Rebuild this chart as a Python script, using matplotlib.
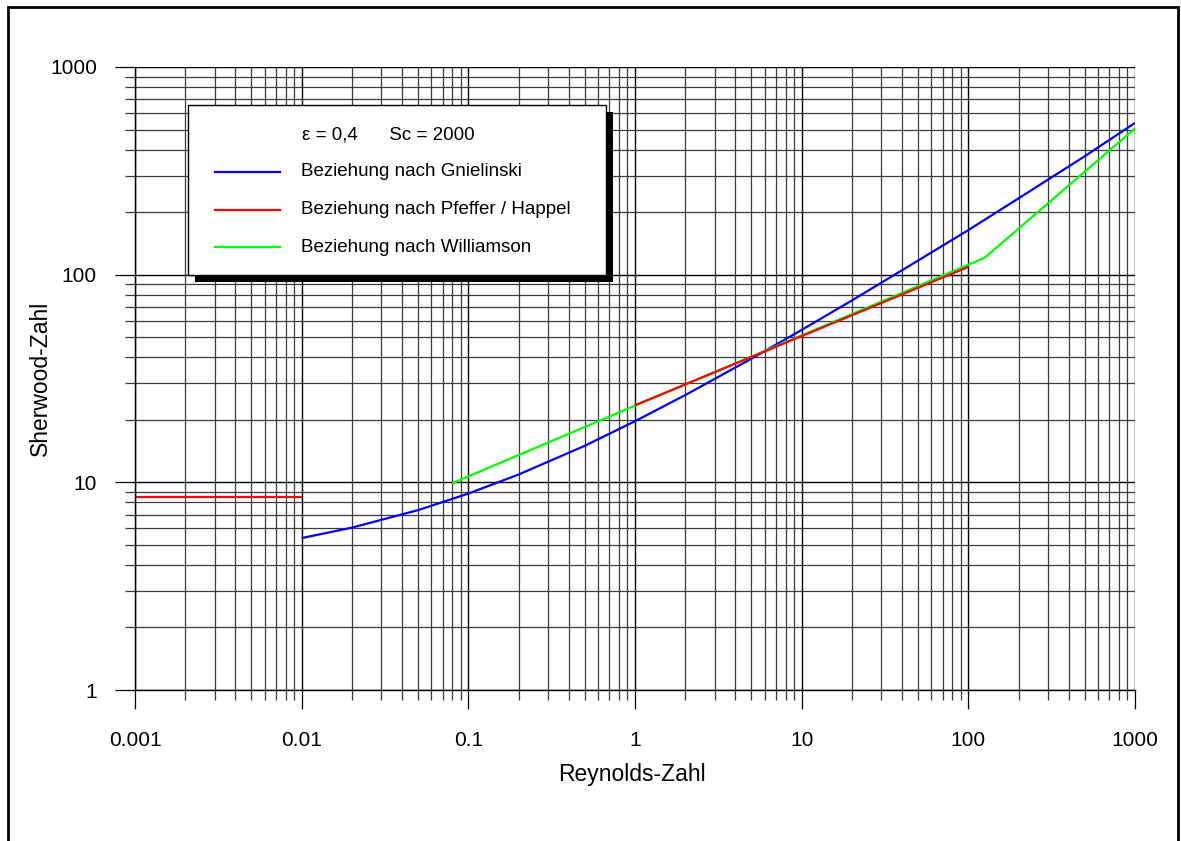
import matplotlib
matplotlib.use("Agg")
import matplotlib.pyplot as plt
from matplotlib.patches import Rectangle
from matplotlib.lines import Line2D
from matplotlib.ticker import LogLocator, FixedLocator, NullFormatter

plt.rcParams['font.family'] = ['Liberation Sans', 'DejaVu Sans']

# Gnielinski correlation (packed bed)
re_gnielinski = [0.01, 0.02, 0.05, 0.1, 0.2, 0.5, 1, 2, 5, 10, 20, 50, 100, 200, 500, 1000]
sh_gnielinski = [5.39, 6.05, 7.35, 8.83, 10.9, 15.0, 19.7, 26.3, 39.4, 54.2, 75.1, 117, 164, 233, 372, 538]

# Pfeffer / Happel: low-Re limit and creeping-flow branch
re_pfeffer_low = [0.001, 0.01]
sh_pfeffer_low = [8.53, 8.53]
re_pfeffer = [1, 10, 100]
sh_pfeffer = [23.5, 50.6, 109]

# Williamson correlation (two ranges)
re_williamson = [0.08, 1, 10, 125, 1000]
sh_williamson = [9.9, 23.4, 51.0, 120.5, 506]

x_ticks = [0.001, 0.01, 0.1, 1, 10, 100, 1000]
x_ticklabels = ["0.001", "0.01", "0.1", "1", "10", "100", "1000"]
y_ticks = [1, 10, 100, 1000]
y_ticklabels = ["1", "10", "100", "1000"]

legend_title = "ε = 0,4      Sc = 2000"
labels = ["Beziehung nach Gnielinski", "Beziehung nach Pfeffer / Happel", "Beziehung nach Williamson"]
colors = ["#0000ff", "#ff0000", "#00ff00"]

W, H = 1181, 841
fig = plt.figure(figsize=(W / 100, H / 100), dpi=100)
ax = fig.add_axes([135 / W, (H - 690) / H, 1000 / W, 623 / H])

ax.set_xscale("log")
ax.set_yscale("log")
ax.set_xlim(0.001, 1000)
ax.set_ylim(1, 1000)

ax.xaxis.set_major_locator(FixedLocator(x_ticks))
ax.set_xticklabels(x_ticklabels)
ax.yaxis.set_major_locator(FixedLocator(y_ticks))
ax.set_yticklabels(y_ticklabels)
ax.xaxis.set_minor_locator(LogLocator(base=10, subs=range(2, 10), numticks=20))
ax.yaxis.set_minor_locator(LogLocator(base=10, subs=range(2, 10), numticks=20))
ax.xaxis.set_minor_formatter(NullFormatter())
ax.yaxis.set_minor_formatter(NullFormatter())

ax.grid(which="major", color="black", linewidth=1.0)
ax.grid(which="minor", color="#3a3a3a", linewidth=0.9)
ax.set_axisbelow(True)

for s in ("top", "right"):
    ax.spines[s].set_visible(False)
for s in ("left", "bottom"):
    ax.spines[s].set_linewidth(1.0)

ax.tick_params(which="major", direction="out", length=13.5, width=0.9,
               labelsize=15, pad=16, color="black")
ax.tick_params(which="minor", direction="out", length=7.2, width=0.9, color="#3a3a3a")
ax.tick_params(axis="y", which="major", length=14.5, pad=13)

ax.plot(re_gnielinski, sh_gnielinski, color=colors[0], lw=1.6, solid_capstyle="butt")
ax.plot(re_pfeffer_low, sh_pfeffer_low, color=colors[1], lw=1.6, solid_capstyle="butt")
ax.plot(re_williamson, sh_williamson, color=colors[2], lw=1.6, solid_capstyle="butt")
ax.plot(re_pfeffer, sh_pfeffer, color=colors[1], lw=1.6, solid_capstyle="butt")


def fx(px):
    return px / W


def fy(py):
    return (H - py) / H


# Axis titles
fig.text(fx(632), fy(775), "Reynolds-Zahl", fontsize=16.5, ha="center", va="center")
fig.text(fx(40), fy(378), "Sherwood-Zahl", fontsize=16.5, ha="center", va="center",
         rotation=90)

# Legend box with drop shadow
shadow = Rectangle((fx(195), fy(282)), fx(613) - fx(195), fy(112) - fy(282),
                   transform=fig.transFigure, facecolor="black", edgecolor="none", zorder=5)
box = Rectangle((fx(188), fy(275)), fx(606) - fx(188), fy(105) - fy(275),
                transform=fig.transFigure, facecolor="white", edgecolor="black",
                linewidth=1.0, zorder=6)
fig.add_artist(shadow)
fig.add_artist(box)

fig.text(fx(302), fy(135), legend_title, fontsize=13.5, va="center", ha="left", zorder=7)
rows_y = [172, 209.5, 247]
for lab, col, yy in zip(labels, colors, rows_y):
    fig.add_artist(Line2D([fx(215), fx(280)], [fy(yy), fy(yy)], transform=fig.transFigure,
                          color=col, lw=1.6, zorder=7))
    fig.text(fx(301), fy(yy), lab, fontsize=13.5, va="center", ha="left", zorder=7)

# Outer frame (open at the bottom edge)
frame = Rectangle((fx(8), fy(900)), fx(1178) - fx(8), fy(7) - fy(900),
                  transform=fig.transFigure, facecolor="none", edgecolor="black",
                  linewidth=2.0, zorder=8)
fig.add_artist(frame)

fig.savefig("out.png", dpi=100)
